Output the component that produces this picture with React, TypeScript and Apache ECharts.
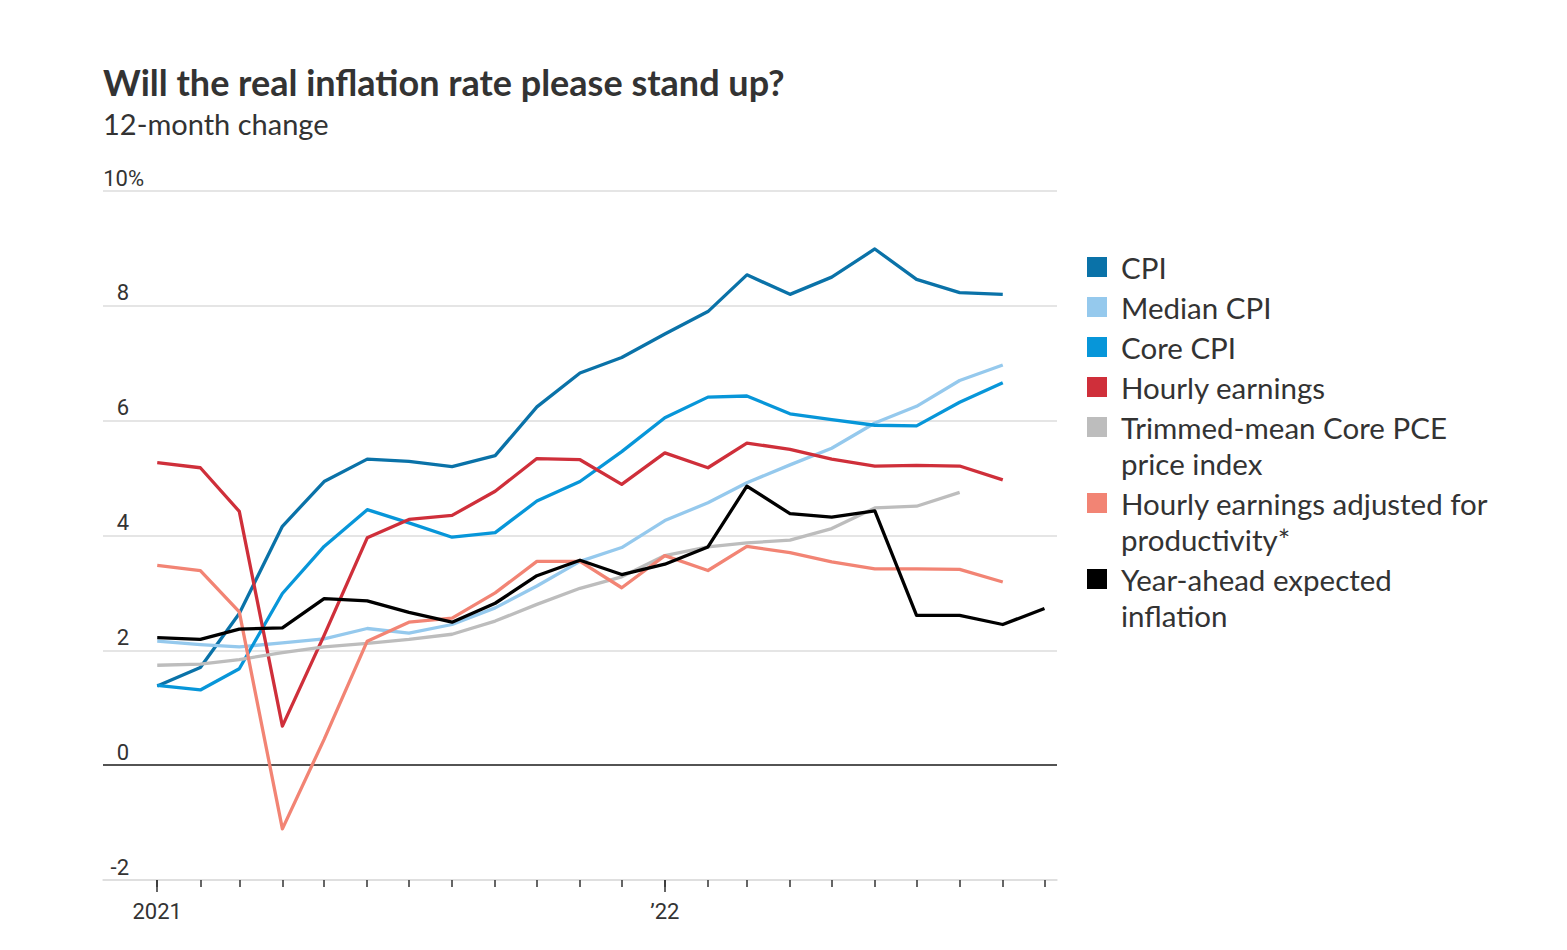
import { useEffect, useRef } from 'react';
import * as echarts from 'echarts';

const months = [
  '2021-01-01', '2021-02-01', '2021-03-01', '2021-04-01', '2021-05-01', '2021-06-01',
  '2021-07-01', '2021-08-01', '2021-09-01', '2021-10-01', '2021-11-01', '2021-12-01',
  '2022-01-01', '2022-02-01', '2022-03-01', '2022-04-01', '2022-05-01', '2022-06-01',
  '2022-07-01', '2022-08-01', '2022-09-01', '2022-10-01',
];
const yearTicks = ['2021-01-01', '2022-01-01'];
const yearLabels = ['2021', '\u201922'];

const cpi = [1.38, 1.70, 2.64, 4.16, 4.94, 5.33, 5.29, 5.20, 5.39, 6.24, 6.83, 7.10, 7.51, 7.90, 8.54, 8.20, 8.50, 8.99, 8.46, 8.23, 8.20, null];
const medianCpi = [2.16, 2.10, 2.06, 2.13, 2.20, 2.38, 2.30, 2.45, 2.74, 3.12, 3.55, 3.79, 4.26, 4.57, 4.92, 5.23, 5.52, 5.96, 6.25, 6.70, 6.97, null];
const coreCpi = [1.39, 1.31, 1.68, 2.99, 3.81, 4.45, 4.22, 3.97, 4.05, 4.60, 4.94, 5.46, 6.05, 6.41, 6.43, 6.12, 6.02, 5.92, 5.91, 6.32, 6.66, null];
const hourlyEarnings = [5.27, 5.18, 4.42, 0.68, 2.26, 3.96, 4.28, 4.35, 4.77, 5.34, 5.32, 4.89, 5.44, 5.18, 5.61, 5.50, 5.33, 5.21, 5.22, 5.21, 4.97, null];
const trimmedMean = [1.74, 1.76, 1.84, 1.96, 2.06, 2.12, 2.19, 2.28, 2.51, 2.80, 3.08, 3.28, 3.65, 3.80, 3.87, 3.92, 4.12, 4.48, 4.51, 4.75, null, null];
const adjustedEarnings = [3.48, 3.39, 2.67, -1.11, 0.45, 2.16, 2.49, 2.56, 3.00, 3.55, 3.55, 3.09, 3.65, 3.39, 3.81, 3.70, 3.54, 3.42, 3.42, 3.41, 3.19, null];
const yearAhead = [2.22, 2.19, 2.37, 2.39, 2.90, 2.86, 2.66, 2.49, 2.82, 3.30, 3.57, 3.32, 3.50, 3.80, 4.86, 4.38, 4.32, 4.43, 2.61, 2.61, 2.45, 2.73];

const seriesNames = [
  'CPI',
  'Median CPI',
  'Core CPI',
  'Hourly earnings',
  'Trimmed-mean Core PCE\nprice index',
  'Hourly earnings adjusted for\nproductivity*',
  'Year-ahead expected\ninflation',
];
const seriesColors = ['#0a72a8', '#95c9ed', '#0796d9', '#cf2f3a', '#bdbdbd', '#f28474', '#000000'];
const seriesData = [cpi, medianCpi, coreCpi, hourlyEarnings, trimmedMean, adjustedEarnings, yearAhead];
const drawOrder = [4, 5, 3, 1, 2, 0, 6];

const yTicks = { min: -2, max: 10, step: 2 };

const FONT = "'Liberation Sans Narrow', Roboto, 'Noto Sans', sans-serif";
const TITLE_FONT = "Lato, 'Noto Sans', sans-serif";

const toTime = (s: string) => {
  const [y, m, d] = s.split('-').map(Number);
  return Date.UTC(y, m - 1, d);
};

export default function App() {
  const ref = useRef<HTMLDivElement>(null);

  useEffect(() => {
    const chart = echarts.init(ref.current!, null, { renderer: 'svg' });
    const xMin = toTime('2020-11-23');
    const xMax = toTime('2022-10-10');
    const monthTimes = months.map(toTime);
    const yearTimes = yearTicks.map(toTime);

    const series: any[] = drawOrder.map((i) => ({
      name: seriesNames[i],
      type: 'line',
      xAxisIndex: 0,
      yAxisIndex: 0,
      showSymbol: false,
      symbol: 'none',
      connectNulls: false,
      lineStyle: { color: seriesColors[i], width: 3.3, join: 'round' },
      itemStyle: { color: seriesColors[i] },
      data: monthTimes.map((t, k) => [t, seriesData[i][k]]),
      z: 3 + i,
    }));
    series.push({
      type: 'line',
      data: [],
      markLine: {
        silent: true,
        symbol: ['none', 'none'],
        label: { show: false },
        lineStyle: { color: '#222', width: 1.5, type: 'solid' },
        data: [{ yAxis: 0 }],
      },
      z: 2,
    });

    // legend built as graphics
    const graphics: any[] = [];
    let cy = 267;
    seriesNames.forEach((name, i) => {
      const lines = name.split('\n').length;
      graphics.push({
        type: 'rect',
        shape: { x: 1087, y: cy - 10, width: 20, height: 20 },
        style: { fill: seriesColors[i] },
      });
      graphics.push({
        type: 'text',
        x: 1121,
        y: cy - 18,
        style: {
          text: name,
          fill: '#333',
          fontSize: 29.5,
          fontFamily: TITLE_FONT,
          lineHeight: 36,
          verticalAlign: 'top',
          align: 'left',
        },
      });
      cy += lines * 36 + 4;
    });

    chart.setOption({
      animation: false,
      backgroundColor: '#fff',
      title: {
        left: 103,
        top: 64,
        padding: 0,
        text: 'Will the real inflation rate please stand up?',
        subtext: '12-month change',
        itemGap: 9,
        textStyle: { fontSize: 36, fontWeight: 'bold', color: '#333', fontFamily: TITLE_FONT },
        subtextStyle: { fontSize: 29, color: '#333', fontFamily: TITLE_FONT },
      },
      grid: { left: 103, right: 510, top: 191, bottom: 70, containLabel: false },
      xAxis: [
        {
          type: 'value',
          min: xMin,
          max: xMax,
          scale: true,
          axisLine: { show: true, onZero: false, lineStyle: { color: '#ddd', width: 1.5 } },
          axisTick: {
            show: true,
            length: 7,
            customValues: monthTimes,
            lineStyle: { color: '#333', width: 1.5 },
          },
          axisLabel: { show: false },
          splitLine: { show: false },
        },
        {
          type: 'value',
          min: xMin,
          max: xMax,
          scale: true,
          position: 'bottom',
          axisLine: { show: false, onZero: false },
          axisTick: {
            show: true,
            length: 12,
            customValues: yearTimes,
            lineStyle: { color: '#333', width: 1.5 },
          },
          axisLabel: {
            show: true,
            margin: 20,
            fontSize: 22,
            color: '#333',
            fontFamily: FONT,
            customValues: yearTimes,
            formatter: (v: number) => {
              const idx = yearTimes.indexOf(v);
              return idx >= 0 ? yearLabels[idx] : '';
            },
          },
          splitLine: { show: false },
        },
      ],
      yAxis: {
        type: 'value',
        min: yTicks.min,
        max: yTicks.max,
        interval: yTicks.step,
        axisLine: { show: false },
        axisTick: { show: false },
        splitLine: { lineStyle: { color: '#ddd', width: 1.5 } },
        axisLabel: {
          inside: true,
          margin: 41,
          align: 'right',
          verticalAlign: 'bottom',
          padding: [0, 0, 2, 0],
          fontSize: 22,
          color: '#333',
          fontFamily: FONT,
          formatter: (v: number) => (v === yTicks.max ? v + '%' : v + '{s| }'),
          rich: { s: { width: 15, fontSize: 22 } },
        },
      },
      graphic: graphics,
      series,
    });
    return () => chart.dispose();
  }, []);

  return <div ref={ref} style={{ position: 'fixed', left: 0, top: 0, width: 1567, height: 950 }} />;
}
